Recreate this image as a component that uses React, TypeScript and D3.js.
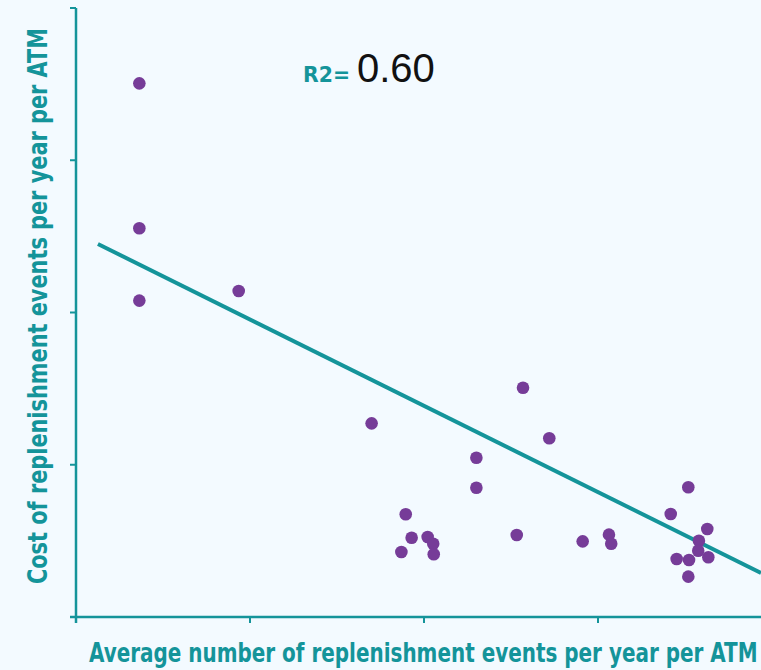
import React, { useLayoutEffect, useRef, useState } from "react";
import * as d3 from "d3";

const xValues = [0.364, 0.364, 0.364, 0.935, 1.699, 2.569, 2.72, 2.301, 2.301, 1.895, 1.929, 2.021, 2.053, 1.87, 2.056, 2.533, 2.912, 3.063, 3.076, 3.519, 3.418, 3.628, 3.58, 3.576, 3.634, 3.452, 3.523, 3.519];
const yValues = [3.505, 2.553, 2.078, 2.141, 1.272, 1.506, 1.174, 1.046, 0.849, 0.675, 0.521, 0.525, 0.481, 0.427, 0.412, 0.539, 0.497, 0.541, 0.481, 0.852, 0.677, 0.578, 0.501, 0.435, 0.392, 0.381, 0.374, 0.265];
const trendX = [0.126, 3.937];
const trendY = [2.45, 0.289];
const xTicks = [0, 1, 2, 3];
const yTicks = [0, 1, 2, 3, 4];
const xLabel = "Average number of replenishment events per year per ATM";
const yLabel = "Cost of replenishment events per year per ATM";
const r2Label = "R2=";
const r2Value = "0.60";

const W = 761;
const H = 670;
const teal = "#14949a";
const purple = "#763c98";
const font = "'DejaVu Sans Condensed', 'Open Sans', sans-serif";

function FitText(props: { x: number; y: number; rotate?: number; width: number; size: number; fill: string; text: string }) {
  const ref = useRef<SVGTextElement>(null);
  const [sx, setSx] = useState(1);
  useLayoutEffect(() => {
    if (ref.current) {
      const w = ref.current.getComputedTextLength();
      if (w > 0) setSx(props.width / w);
    }
  }, [props.width, props.text]);
  return (
    <g transform={`translate(${props.x}, ${props.y}) rotate(${props.rotate || 0}) scale(${sx}, 1)`}>
      <text ref={ref} x={0} y={0} fill={props.fill} fontFamily={font} fontWeight="bold" fontSize={props.size}>
        {props.text}
      </text>
    </g>
  );
}

export default function App() {
  const x = d3.scaleLinear().domain([0, 4]).range([76, 772]);
  const y = d3.scaleLinear().domain([0, 4]).range([617, 8]);
  const pts = xValues.map((v, i) => [v, yValues[i]] as [number, number]);
  const trend = trendX.map((v, i) => [v, trendY[i]] as [number, number]);
  const line = d3.line<[number, number]>().x((d) => x(d[0])).y((d) => y(d[1]));
  return (
    <svg width={W} height={H} style={{ position: "absolute", left: 0, top: 0, background: "#f3faff" }}>
      <rect x={0} y={0} width={W} height={H} fill="#f3faff" />
      {/* axes */}
      <line x1={x(0)} y1={y(4)} x2={x(0)} y2={y(0) + 6} stroke={teal} strokeWidth={2.5} />
      <line x1={70} y1={y(0)} x2={W} y2={y(0)} stroke={teal} strokeWidth={2.5} />
      {yTicks.map((t) => (
        <line key={"yt" + t} x1={70} x2={x(0)} y1={y(t)} y2={y(t)} stroke={teal} strokeWidth={2} />
      ))}
      {xTicks.map((t) => (
        <line key={"xt" + t} x1={x(t)} x2={x(t)} y1={y(0)} y2={y(0) + 6} stroke={teal} strokeWidth={2} />
      ))}
      {/* trend line */}
      <path d={line(trend) || ""} fill="none" stroke={teal} strokeWidth={4} />
      {/* points */}
      {pts.map((p, i) => (
        <circle key={i} cx={x(p[0])} cy={y(p[1])} r={6.3} fill={purple} />
      ))}
      {/* labels */}
      <FitText x={89} y={662} width={669} size={26} fill={teal} text={xLabel} />
      <FitText x={47} y={584} rotate={-90} width={556} size={27} fill={teal} text={yLabel} />
      <FitText x={303} y={82} width={47} size={22} fill={teal} text={r2Label} />
      <text x={357} y={82} fill="#111" fontFamily="'Liberation Sans', Arial, sans-serif" fontSize={40}>
        {r2Value}
      </text>
    </svg>
  );
}
